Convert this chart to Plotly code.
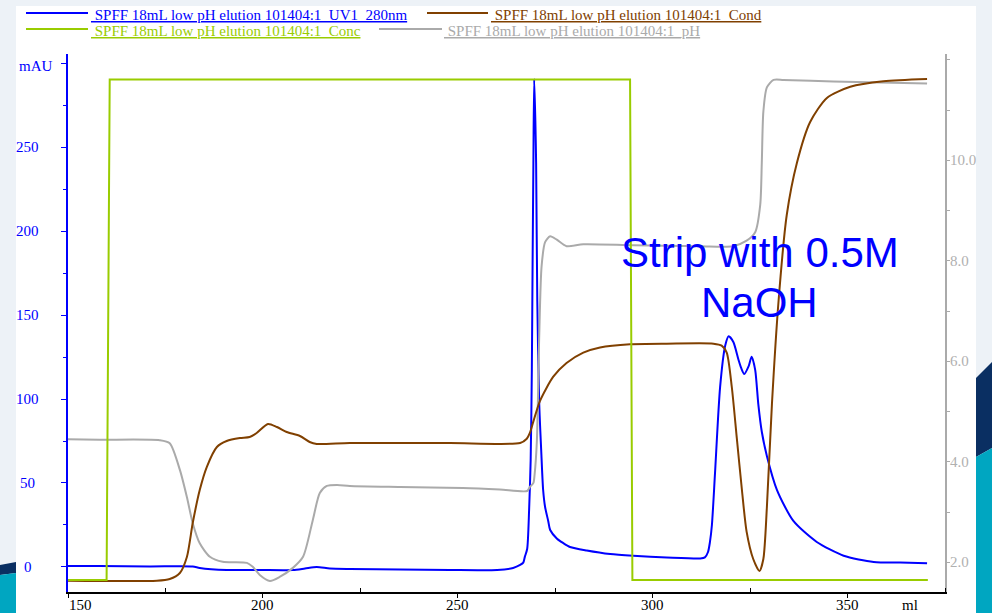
import plotly.graph_objects as go

# ---------------- chromatogram data (elution volume in ml) ----------------
uv_ml = [150.0, 158.1, 171.0, 182.0, 183.8, 190.7, 199.2, 207.7, 210.8, 213.8,
         217.2, 222.3, 235.2, 248.0, 260.1, 264.2, 266.0, 266.8, 267.2, 267.8,
         268.3, 268.7, 269.0, 269.2, 269.4, 269.6, 269.9, 270.1, 270.4, 270.9,
         271.4, 271.9, 272.4, 273.2, 273.7, 275.4, 277.0, 278.8, 283.1, 289.1,
         295.0, 303.6, 312.2, 313.4, 314.2, 314.7, 315.2, 316.0, 317.3, 318.6,
         319.5, 320.7, 322.0, 322.7, 323.5, 324.6, 325.4, 326.3, 327.1, 328.0,
         329.3, 331.9, 336.1, 342.1, 349.0, 356.7, 363.5, 370.4]
uv_mau = [0.6, 0.6, 0.3, 0.3, -0.6, -1.8, -1.8, -1.8, -0.9, 0.0,
          -0.9, -1.2, -1.5, -1.8, -1.8, -0.6, 1.2, 2.6, 6.0, 10.7,
          33.9, 63.7, 117.3, 182.7, 240.5, 290.5, 266.0, 240.5, 158.3, 97.0,
          69.6, 45.8, 35.7, 27.4, 22.0, 17.0, 14.3, 11.9, 9.8, 7.7,
          6.7, 5.7, 5.1, 5.7, 8.9, 14.9, 25.0, 56.0, 107.1, 131.7,
          137.3, 133.9, 123.5, 118.5, 114.9, 119.4, 125.2, 117.3, 97.0, 80.5,
          66.1, 45.8, 27.4, 14.9, 6.7, 3.0, 2.6, 2.2]

cond_ml = [150.0, 172.8, 176.1, 178.7, 180.5, 182.0, 183.8, 185.6, 188.2, 190.7,
           194.1, 196.6, 198.4, 201.3, 203.6, 206.1, 209.5, 212.0, 213.8, 222.3,
           248.0, 266.0, 267.7, 268.5, 269.4, 271.1, 274.5, 277.9, 282.2, 286.5,
           294.2, 303.6, 315.6, 317.7, 319.0, 320.3, 321.6, 322.9, 324.1, 325.8,
           327.4, 328.4, 329.3, 330.6, 332.3, 334.4, 337.0, 340.4, 344.7, 350.7,
           359.2, 370.4]
cond_ms = [2.31, 2.31, 2.66, 3.89, 7.17, 14.13, 20.89, 25.60, 29.70, 30.93,
           31.54, 31.75, 32.57, 34.41, 33.80, 32.77, 31.95, 30.72, 30.32, 30.52,
           30.52, 30.52, 31.40, 32.57, 34.94, 39.16, 44.10, 46.91, 49.04, 50.10,
           50.74, 50.86, 50.86, 50.45, 49.04, 41.99, 31.40, 20.89, 12.37, 6.76,
           4.30, 6.76, 17.31, 38.51, 59.61, 77.22, 87.87, 96.27, 101.21, 103.48,
           104.61, 105.08]

ph_ml = [150.0, 158.1, 173.5, 176.1, 178.7, 180.5, 182.0, 183.8, 186.4, 189.7,
         195.9, 197.4, 199.2, 201.8, 204.3, 207.7, 210.3, 212.8, 214.6, 216.4,
         219.0, 222.3, 235.2, 251.3, 260.8, 267.8, 268.5, 269.4, 269.7, 270.3,
         270.9, 271.5, 272.4, 273.7, 275.4, 277.9, 282.2, 295.0, 312.2, 320.6,
         324.1, 326.3, 327.6, 328.0, 328.4, 329.3, 331.0, 333.6, 346.3, 370.4]
ph_val = [4.45, 4.44, 4.43, 4.37, 3.84, 3.30, 2.78, 2.38, 2.11, 2.01,
          1.99, 1.91, 1.75, 1.63, 1.71, 1.89, 2.11, 2.84, 3.38, 3.52,
          3.54, 3.52, 3.50, 3.48, 3.45, 3.42, 3.50, 3.58, 3.74, 4.43,
          6.52, 7.89, 8.37, 8.49, 8.42, 8.29, 8.33, 8.31, 8.29, 8.29,
          8.40, 8.57, 9.12, 9.95, 10.97, 11.45, 11.60, 11.60, 11.57, 11.53]

conc_ml = [150.0, 159.9, 160.7, 294.2, 294.8, 370.6]
conc_pct = [0, 0, 100, 100, 0, 0]

run = "SPFF 18mL low pH elution 101404:1"
names = {"uv": run + "_UV1_280nm", "cond": run + "_Cond",
         "conc": run + "_Conc", "ph": run + "_pH"}
colors = {"uv": "#0000ff", "cond": "#804000", "conc": "#99cc00", "ph": "#aaaaaa"}

x_ticks = [150, 200, 250, 300, 350]
uv_ticks = [0, 50, 100, 150, 200, 250]
ph_ticks = [2.0, 4.0, 6.0, 8.0, 10.0]

# ---------------- page geometry ----------------
W, H = 992, 613
ML, MR, MT, MB = 68, 47, 54, 21
PW, PH = W - ML - MR, H - MT - MB


def fx(px):
    return (px - ML) / PW


def fy(py):
    return (H - MB - py) / PH


SERIF = "Liberation Serif"
SANS = "Liberation Sans"
SMOOTH = dict(shape="spline", smoothing=0.7)

fig = go.Figure()
fig.add_trace(go.Scatter(x=conc_ml, y=conc_pct, mode="lines", yaxis="y4", name=names["conc"],
                         line=dict(color=colors["conc"], width=2)))
fig.add_trace(go.Scatter(x=ph_ml, y=ph_val, mode="lines", yaxis="y2", name=names["ph"],
                         line=dict(color=colors["ph"], width=2, **SMOOTH)))
fig.add_trace(go.Scatter(x=cond_ml, y=cond_ms, mode="lines", yaxis="y3", name=names["cond"],
                         line=dict(color=colors["cond"], width=2, **SMOOTH)))
fig.add_trace(go.Scatter(x=uv_ml, y=uv_mau, mode="lines", yaxis="y", name=names["uv"],
                         line=dict(color=colors["uv"], width=2, **SMOOTH)))

shapes = []
# slide background panel and decorative corner bands
shapes.append(dict(type="rect", xref="paper", yref="paper", layer="below",
                   x0=fx(16), x1=fx(976), y0=fy(6), y1=fy(613),
                   fillcolor="white", line=dict(width=0)))


def poly(pts, color):
    path = "M " + " L ".join(f"{fx(a):.5f},{fy(b):.5f}" for a, b in pts) + " Z"
    return dict(type="path", xref="paper", yref="paper", layer="below", path=path,
                fillcolor=color, line=dict(width=0))


shapes.append(poly([(976, 378), (992, 362), (992, 448), (976, 457)], "#0a2f62"))
shapes.append(poly([(976, 457), (992, 448), (992, 613), (976, 613)], "#00a6c1"))
shapes.append(poly([(0, 565), (16, 562), (16, 573), (0, 575)], "#0a2f62"))
shapes.append(poly([(0, 575), (16, 573), (16, 613), (0, 613)], "#00a6c1"))

annotations = []

# legend built from the series names
legend_rows = [("uv", 26, 88, 13, 89), ("cond", 427, 488, 13, 489),
               ("conc", 26, 88, 29, 89), ("ph", 379, 442, 29, 442)]
for key, x0, x1, ly, tx in legend_rows:
    shapes.append(dict(type="line", xref="paper", yref="paper",
                       x0=fx(x0), x1=fx(x1), y0=fy(ly), y1=fy(ly),
                       line=dict(color=colors[key], width=2)))
    annotations.append(dict(xref="paper", yref="paper", x=fx(tx), y=fy(ly + 2),
                            xanchor="left", yanchor="middle", showarrow=False,
                            text='<span style="text-decoration:underline">\u00a0' + names[key] + "</span>",
                            font=dict(family=SERIF, size=15, color=colors[key])))

# axis labels
for i, v in enumerate(x_ticks):
    annotations.append(dict(xref="x", yref="paper", x=v, y=fy(604.5), borderpad=0,
                            xanchor="left" if i == 0 else "center", yanchor="middle",
                            showarrow=False, text=str(v),
                            font=dict(family=SERIF, size=15, color="black")))
annotations.append(dict(xref="x", yref="paper", x=366, y=fy(604.5), xanchor="center",
                        yanchor="middle", showarrow=False, text="ml", borderpad=0,
                        font=dict(family=SERIF, size=15, color="black")))
for v in uv_ticks:
    annotations.append(dict(xref="paper", yref="y", x=fx(27.5), y=v, xanchor="center",
                            yanchor="middle", showarrow=False, text=str(v),
                            font=dict(family=SERIF, size=15, color=colors["uv"])))
annotations.append(dict(xref="paper", yref="y", x=fx(16.5), y=298, xanchor="left",
                        yanchor="middle", showarrow=False, text="mAU",
                        font=dict(family=SERIF, size=15, color=colors["uv"])))
for v in ph_ticks:
    annotations.append(dict(xref="paper", yref="y2", x=fx(948), y=v, xanchor="left",
                            yanchor="middle", showarrow=False, text=f"{v:.1f}",
                            font=dict(family=SERIF, size=15, color="#b0b0b0")))

# strip step label
annotations.append(dict(xref="x", yref="y", x=327.5, y=187.5, showarrow=False,
                        xanchor="center", yanchor="middle", text="Strip with 0.5M",
                        font=dict(family=SANS, size=42, color="#0000ff")))
annotations.append(dict(xref="x", yref="y", x=327.5, y=157.7, showarrow=False,
                        xanchor="center", yanchor="middle", text="NaOH",
                        font=dict(family=SANS, size=42, color="#0000ff")))

fig.update_layout(
    width=W, height=H,
    margin=dict(l=ML, r=MR, t=MT, b=MB, pad=0),
    paper_bgcolor="#edf2f7",
    plot_bgcolor="rgba(0,0,0,0)",
    showlegend=False,
    shapes=shapes,
    annotations=annotations,
    xaxis=dict(range=[150, 375], showgrid=False, zeroline=False,
               showline=True, linecolor="black", linewidth=2,
               tickvals=x_ticks, ticks="outside", ticklen=4, tickcolor="black",
               showticklabels=False,
               minor=dict(tickvals=[175, 225, 275, 325, 375], ticks="inside",
                          ticklen=4, tickcolor="black")),
    yaxis=dict(range=[-14.9, 305.4], showgrid=False, zeroline=False,
               showline=True, linecolor=colors["uv"], linewidth=2,
               tickvals=uv_ticks + [300], ticks="outside", ticklen=5,
               tickcolor=colors["uv"], showticklabels=False,
               minor=dict(tickvals=[25, 75, 125, 175, 225, 275], ticks="outside",
                          ticklen=3, tickcolor=colors["uv"])),
    yaxis2=dict(range=[1.41, 12.115], overlaying="y", side="right", anchor="x",
                showgrid=False, zeroline=False, showline=True,
                linecolor="#aaaaaa", linewidth=2,
                tickvals=ph_ticks + [12.0], ticks="outside", ticklen=3,
                tickcolor="#aaaaaa", showticklabels=False,
                minor=dict(tickvals=[3, 5, 7, 9, 11], ticks="outside",
                           ticklen=3, tickcolor="#aaaaaa")),
    yaxis3=dict(range=[0, 110.2], overlaying="y", visible=False),
    yaxis4=dict(range=[-2.40, 105.1], overlaying="y", visible=False),
)

fig.write_html("out.html")
